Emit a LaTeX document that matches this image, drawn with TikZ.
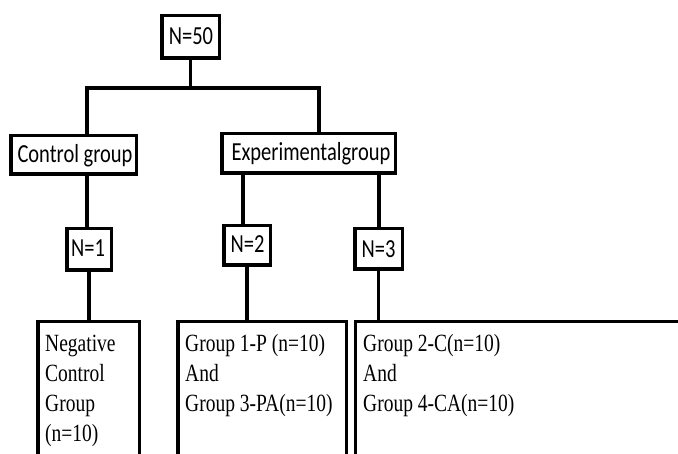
\documentclass[tikz,border=0pt]{standalone}
\usepackage{fontspec}
\setmainfont{Liberation Serif}
\newfontfamily\calfont{Carlito}
\newfontfamily\serffont{Liberation Serif}
\newcommand{\stretchtxt}[1]{\scalebox{1}[1.27]{#1}}
\begin{document}
\begin{tikzpicture}[x=1pt,y=-1pt,
  box/.style={draw=black, line width=3.5pt, inner sep=0pt, fill=white},
  lbl/.style={anchor=base, inner sep=0pt, font=\calfont\fontsize{20.5}{24}\selectfont},
  txt/.style={anchor=base west, inner sep=0pt, font=\serffont\fontsize{19.5}{23}\selectfont},
  conn/.style={line width=3.5pt}]
\useasboundingbox (0,0) rectangle (678,454);
\clip (0,0) rectangle (678,454);
\fill[white] (0,0) rectangle (678,454);
% boxes
\node[box, minimum width=57.5pt, minimum height=42.5pt] (n50) at (190.5,37) {};
\node[box, minimum width=125.5pt, minimum height=38.5pt] (ctrl) at (73.5,155) {};
\node[box, minimum width=173.5pt, minimum height=39.5pt] (exp) at (308.5,153.5) {};
\node[box, minimum width=44.5pt, minimum height=41.5pt] (n1) at (89,249.5) {};
\node[box, minimum width=46.5pt, minimum height=39.5pt] (n2) at (247,245.5) {};
\node[box, minimum width=47.5pt, minimum height=40.5pt] (n3) at (378.5,249) {};
\node[box, minimum width=101.5pt, minimum height=200pt] (neg) at (88.5,421.5) {};
\node[box, minimum width=168.5pt, minimum height=200pt] (g13) at (262,421.5) {};
\node[box, minimum width=400pt, minimum height=200pt] (g24) at (555.5,421.5) {};
% labels
\node[lbl] (t50) at (191,45) {\stretchtxt{N=50}};
\node[lbl] (tctrl) at (75,163) {\stretchtxt{Control group}};
\node[lbl] (texp) at (311,161) {\stretchtxt{Experimentalgroup}};
\node[lbl] (tn1) at (88,257) {\stretchtxt{N=1}};
\node[lbl] (tn2) at (247.5,253) {\stretchtxt{N=2}};
\node[lbl] (tn3) at (378.5,258) {\stretchtxt{N=3}};
\node[txt] (a1) at (45,352) {\stretchtxt{Negative}};
\node[txt] (a2) at (45,382) {\stretchtxt{Control}};
\node[txt] (a3) at (45,412) {\stretchtxt{Group}};
\node[txt] (a4) at (45,442) {\stretchtxt{(n=10)}};
\node[txt] (b1) at (185,352) {\stretchtxt{Group 1-P (n=10)}};
\node[txt] (b2) at (185,382) {\stretchtxt{And}};
\node[txt] (b3) at (185,412) {\stretchtxt{Group 3-PA(n=10)}};
\node[txt] (c1) at (363,352) {\stretchtxt{Group 2-C(n=10)}};
\node[txt] (c2) at (363,382) {\stretchtxt{And}};
\node[txt] (c3) at (363,412) {\stretchtxt{Group 4-CA(n=10)}};
% connectors
\coordinate (bl) at (87,88);
\coordinate (br) at (319,88);
\coordinate (e1) at (243,0);
\coordinate (e2) at (379,0);
\draw[conn] (n50.south) -- (n50.south |- bl);
\draw[conn] (bl |- ctrl.north) -- (bl) -- (br) -- (br |- exp.north);
\draw[conn] (bl |- ctrl.south) -- (bl |- n1.north);
\draw[conn] (e1 |- exp.south) -- (e1 |- n2.north);
\draw[conn] (e2 |- exp.south) -- (e2 |- n3.north);
\draw[conn] (n1.south) -- (n1.south |- neg.north);
\draw[conn] (n2.south) -- (n2.south |- g13.north);
\draw[conn] (n3.south) -- (n3.south |- g24.north);
\end{tikzpicture}
\end{document}
